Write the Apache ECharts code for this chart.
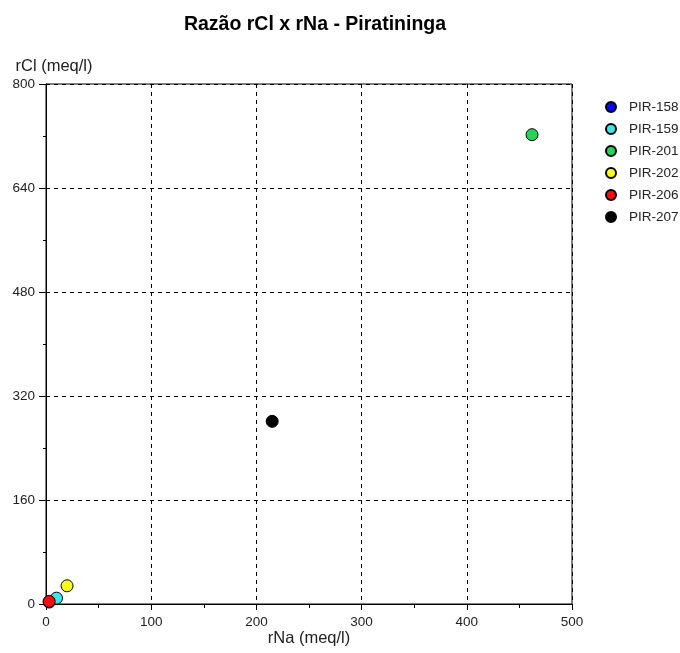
<!DOCTYPE html>
<html>
<head>
<meta charset="utf-8">
<script src="https://cdn.jsdelivr.net/npm/echarts@6/dist/echarts.min.js"></script>
<style>
  html, body { margin: 0; padding: 0; background: #fff; }
  #chart { width: 680px; height: 653px; }
</style>
</head>
<body>
<div id="chart"></div>
<script>
  // pontos (rNa, rCl) em meq/l
  var wells = ['PIR-158', 'PIR-159', 'PIR-201', 'PIR-202', 'PIR-206', 'PIR-207'];
  var rNa = [3, 10, 462, 20, 3, 215];
  var rCl = [3, 9, 722, 28, 4, 281];
  var colors = ['#0a0ae6', '#3ee6e6', '#22d45a', '#ffff1a', '#ee1111', '#000000'];

  var xTicks = [0, 100, 200, 300, 400, 500];
  var yTicks = [0, 160, 320, 480, 640, 800];

  var chart = echarts.init(document.getElementById('chart'));

  var series = [];
  for (var i = 0; i < wells.length; i++) {
    series.push({
      name: wells[i],
      type: 'scatter',
      symbol: 'circle',
      symbolSize: 12,
      data: [[rNa[i], rCl[i]]],
      itemStyle: { color: colors[i], opacity: 1, borderColor: '#000', borderWidth: 1 },
      animation: false
    });
  }

  chart.setOption({
    backgroundColor: '#fff',
    textStyle: { fontFamily: 'Liberation Sans, Arial, sans-serif' },
    title: {
      text: 'Razão rCl x rNa - Piratininga',
      left: 310,
      textAlign: 'center',
      top: 10,
      textStyle: { fontSize: 19.5, fontWeight: 'bold', color: '#000' }
    },
    legend: {
      orient: 'vertical',
      left: 600,
      top: 95,
      itemGap: 8,
      itemWidth: 10,
      itemHeight: 10,
      icon: 'circle',
      textStyle: { fontSize: 13.5, color: '#222', padding: [0, 0, 0, 8] },
      data: wells
    },
    grid: {
      left: 46,
      right: 108,
      top: 84,
      bottom: 49,
      outerBoundsMode: 'none',
      show: true,
      borderColor: '#000',
      borderWidth: 1,
      backgroundColor: 'transparent'
    },
    xAxis: {
      type: 'value',
      min: xTicks[0],
      max: xTicks[xTicks.length - 1],
      interval: 100,
      name: 'rNa (meq/l)',
      nameLocation: 'middle',
      nameGap: 26,
      nameMoveOverlap: false,
      nameTextStyle: { fontSize: 16.5, color: '#222' },
      axisLine: { lineStyle: { color: '#000', width: 1 } },
      axisTick: { show: true, inside: false, length: 6, lineStyle: { color: '#000' } },
      minorTick: { show: true, splitNumber: 2, length: 4, lineStyle: { color: '#000' } },
      axisLabel: { fontSize: 13.5, color: '#222', margin: 11 },
      splitLine: { show: true, lineStyle: { color: '#000', type: [4, 4], width: 1 } }
    },
    yAxis: {
      type: 'value',
      min: yTicks[0],
      max: yTicks[yTicks.length - 1],
      interval: 160,
      name: 'rCl (meq/l)',
      nameLocation: 'end',
      nameGap: 9,
      nameMoveOverlap: false,
      nameTextStyle: { fontSize: 16.5, color: '#222', align: 'center', padding: [0, 0, 0, 16] },
      axisLine: { show: true, lineStyle: { color: '#000', width: 1 } },
      axisTick: { show: true, inside: false, length: 7, lineStyle: { color: '#000' } },
      minorTick: { show: true, splitNumber: 2, length: 3, lineStyle: { color: '#000' } },
      axisLabel: { fontSize: 13.5, color: '#222', margin: 11 },
      splitLine: { show: true, lineStyle: { color: '#000', type: [4, 4], width: 1 } }
    },
    series: series
  });
</script>
</body>
</html>
